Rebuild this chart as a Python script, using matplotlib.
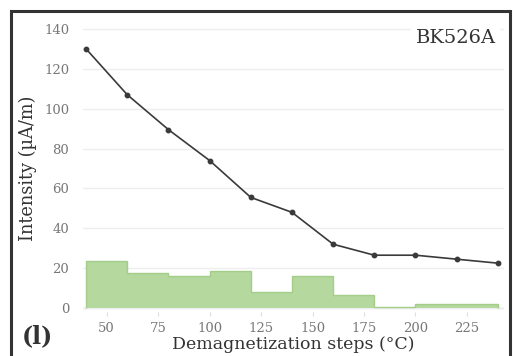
import matplotlib
matplotlib.use("Agg")
import matplotlib.pyplot as plt
from matplotlib.patches import Rectangle

# demagnetization steps (degC) and remanence intensity (uA/m)
steps = [40, 60, 80, 100, 120, 140, 160, 180, 200, 220, 240]
intensity = [130, 107, 89.5, 74, 55.5, 48, 32, 26.5, 26.5, 24.5, 22.5]

# intensity lost over each step interval
bar_edges = [40, 60, 80, 100, 120, 140, 160, 180, 200, 220, 240]
bar_height = [23.5, 17.5, 16, 18.5, 8, 16, 6.5, 0.5, 2, 2]

xticks = [50, 75, 100, 125, 150, 175, 200, 225]
yticks = [0, 20, 40, 60, 80, 100, 120, 140]

plt.rcParams['font.family'] = ['DejaVu Serif']

fig = plt.figure(figsize=(5.13, 3.56), dpi=100)
ax = fig.add_axes([0.1618, 0.1236, 0.8207, 0.8062])

ax.stairs(bar_height, bar_edges, fill=True, color='#b4d89d', lw=0, zorder=2)
ax.stairs(bar_height, bar_edges, fill=False, color='#a3cd88', lw=1, zorder=2)
ax.plot(steps, intensity, color='#3a3a3a', lw=1.2, marker='o', ms=3.2, zorder=3)

ax.set_xlim(38.5, 243)
ax.set_ylim(-2, 142)
ax.set_xticks(xticks)
ax.set_yticks(yticks)
ax.grid(axis='y', color='#eeeeee', lw=1, zorder=0)
ax.axhline(0, color='#dddddd', lw=1, zorder=1)
for s in ax.spines.values():
    s.set_visible(False)
ax.tick_params(axis='both', colors='#dddddd', labelcolor='#777777', labelsize=9.5)
ax.tick_params(axis='y', length=0, pad=10)
ax.tick_params(axis='x', length=3, pad=4)

ax.set_xlabel('Demagnetization steps (°C)', fontsize=12.5, color='#333333', labelpad=1)
ax.set_ylabel('Intensity (µA/m)', fontsize=12.8, color='#333333', labelpad=5)

ax.text(0.98, 0.955, 'BK526A', transform=ax.transAxes, ha='right', va='center',
        fontsize=14, color='#333333', zorder=4,
        bbox=dict(facecolor='white', edgecolor='none', pad=3))
fig.text(37 / 513, 1 - 336 / 356, '(l)', ha='center', va='center',
         fontsize=17, fontweight='bold', color='#333333')

# dark frame around the whole panel
fig.patches.append(Rectangle((10.5 / 513, -0.05), 499.5 / 513, 1.05 - 11 / 356,
                             transform=fig.transFigure, fill=False,
                             edgecolor='#333333', lw=2.2))

fig.savefig('out.png', dpi=100)
